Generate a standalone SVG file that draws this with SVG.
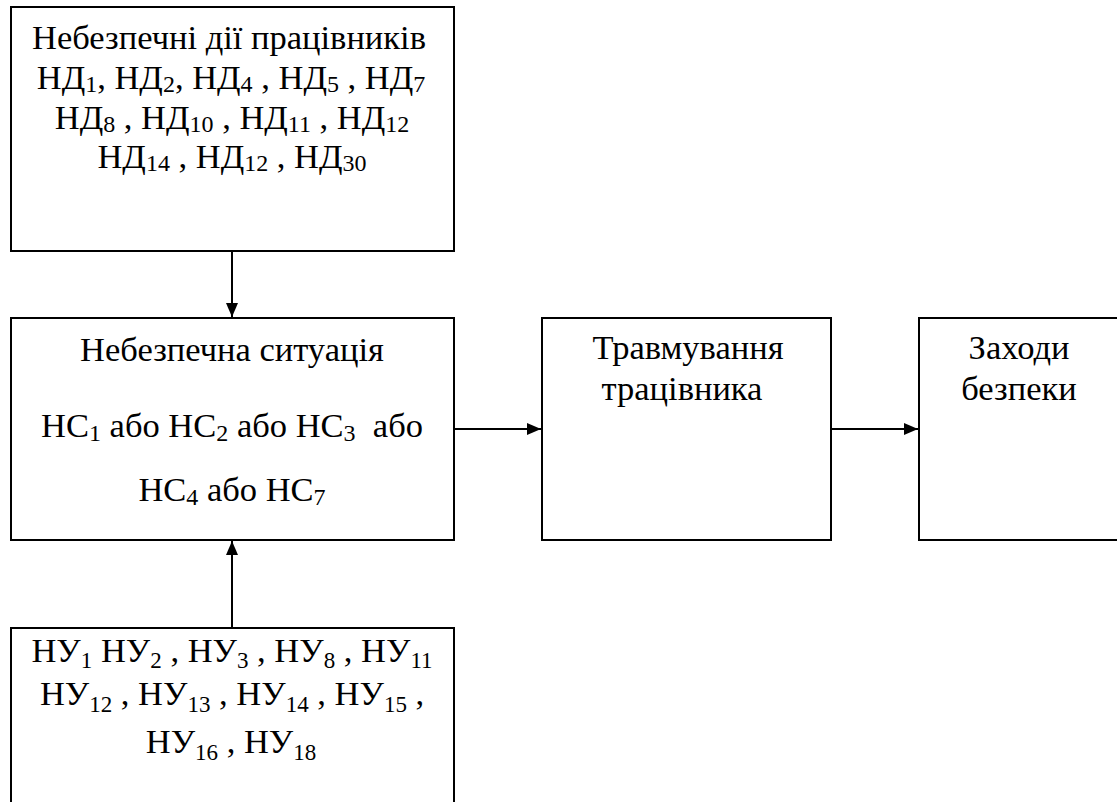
<svg xmlns="http://www.w3.org/2000/svg" width="1117" height="802" viewBox="0 0 1117 802">
<defs>
<style>
.box{fill:#fff;stroke:#000;stroke-width:2}
text{font-family:'Liberation Serif','Times New Roman',serif;font-size:34.5px;fill:#000;text-anchor:middle}
.s{font-size:24px}
.u{font-size:23px}
.c{stroke:#000;stroke-width:2;fill:none}
</style>
<marker id="ah" viewBox="0 0 14 12" refX="14" refY="6" markerWidth="14" markerHeight="12" markerUnits="userSpaceOnUse" orient="auto">
<path d="M0,0 L14,6 L0,12 Z" fill="#000"/>
</marker>
</defs>
<rect width="1117" height="802" fill="#fff"/>
<g id="connectors">
<line class="c" x1="232" y1="251" x2="232" y2="317" marker-end="url(#ah)"/>
<line class="c" x1="232" y1="628" x2="232" y2="541" marker-end="url(#ah)"/>
<line class="c" x1="454" y1="429" x2="541" y2="429" marker-end="url(#ah)"/>
<line class="c" x1="831" y1="429" x2="918" y2="429" marker-end="url(#ah)"/>
</g>
<g id="node-hazard-actions">
<rect class="box" x="11" y="7" width="443" height="244"/>
<text x="229" y="49">Небезпечні дії працівників</text>
<text x="231" y="89">НД<tspan class="s" dy="3">1</tspan><tspan dy="-3">, НД</tspan><tspan class="s" dy="3">2</tspan><tspan dy="-3">, НД</tspan><tspan class="s" dy="3">4</tspan><tspan dy="-3"> , НД</tspan><tspan class="s" dy="3">5</tspan><tspan dy="-3"> , НД</tspan><tspan class="s" dy="3">7</tspan></text>
<text x="232" y="129">НД<tspan class="s" dy="3">8</tspan><tspan dy="-3"> , НД</tspan><tspan class="s" dy="3">10</tspan><tspan dy="-3"> , НД</tspan><tspan class="s" dy="3">11</tspan><tspan dy="-3"> , НД</tspan><tspan class="s" dy="3">12</tspan></text>
<text x="232" y="168">НД<tspan class="s" dy="3">14</tspan><tspan dy="-3"> , НД</tspan><tspan class="s" dy="3">12</tspan><tspan dy="-3"> , НД</tspan><tspan class="s" dy="3">30</tspan></text>
</g>
<g id="node-hazard-situation">
<rect class="box" x="11" y="318" width="443" height="222"/>
<text x="232" y="361">Небезпечна ситуація</text>
<text x="232" y="437">НС<tspan class="s" dy="4">1</tspan><tspan dy="-4"> або НС</tspan><tspan class="s" dy="4">2</tspan><tspan dy="-4"> або НС</tspan><tspan class="s" dy="4">3</tspan><tspan dy="-4" xml:space="preserve">  або</tspan></text>
<text x="232" y="501">НС<tspan class="s" dy="4">4</tspan><tspan dy="-4"> або НС</tspan><tspan class="s" dy="4">7</tspan></text>
</g>
<g id="node-hazard-conditions">
<rect class="box" x="11" y="628" width="443" height="200"/>
<text x="232" y="662">НУ<tspan class="u" dy="6">1</tspan><tspan dy="-6"> НУ</tspan><tspan class="u" dy="6">2</tspan><tspan dy="-6"> , НУ</tspan><tspan class="u" dy="6">3</tspan><tspan dy="-6"> , НУ</tspan><tspan class="u" dy="6">8</tspan><tspan dy="-6"> , НУ</tspan><tspan class="u" dy="6">11</tspan></text>
<text x="232" y="705">НУ<tspan class="u" dy="7">12</tspan><tspan dy="-7"> , НУ</tspan><tspan class="u" dy="7">13</tspan><tspan dy="-7"> , НУ</tspan><tspan class="u" dy="7">14</tspan><tspan dy="-7"> , НУ</tspan><tspan class="u" dy="7">15</tspan><tspan dy="-7"> ,</tspan></text>
<text x="231" y="753">НУ<tspan class="u" dy="7">16</tspan><tspan dy="-7"> , НУ</tspan><tspan class="u" dy="7">18</tspan></text>
</g>
<g id="node-injury">
<rect class="box" x="542" y="318" width="289" height="222"/>
<text x="688" y="359">Травмування</text>
<text x="682" y="400">трацівника</text>
</g>
<g id="node-safety">
<rect class="box" x="919" y="318" width="220" height="222"/>
<text x="1019" y="359">Заходи</text>
<text x="1019" y="400">безпеки</text>
</g>
</svg>
